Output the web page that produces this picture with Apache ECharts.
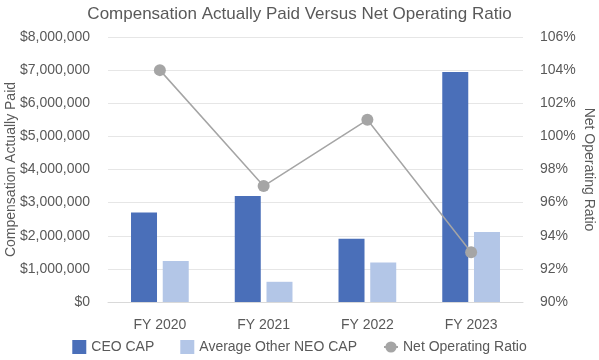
<!DOCTYPE html>
<html>
<head>
<meta charset="utf-8">
<script src="https://cdn.jsdelivr.net/npm/echarts@6/dist/echarts.min.js"></script>
<style>html,body{margin:0;padding:0;background:#fff}#c{width:599px;height:360px}</style>
</head>
<body>
<div id="c"></div>
<script>
var categories = ['FY 2020', 'FY 2021', 'FY 2022', 'FY 2023'];
var ceoCap = [2700000, 3200000, 1910000, 6940000];
var neoCap = [1240000, 610000, 1190000, 2110000];
var netOpRatio = [104, 97, 101, 93];

var txt = '#595959';
var font = 'Helvetica, Arial, "Liberation Sans", sans-serif';
var chart = echarts.init(document.getElementById('c'));
chart.setOption({
  animation: false,
  textStyle: {fontFamily: font},
  title: {text: 'Compensation Actually Paid Versus Net Operating Ratio', left: 'center', top: 1,
    textStyle: {fontSize: 17, fontWeight: 'normal', color: txt, fontFamily: font}},
  grid: {left: 108, right: 76, top: 37, bottom: 58, containLabel: false, outerBoundsMode: 'none'},
  legend: {bottom: 1, left: 'center', itemWidth: 14, itemHeight: 14, itemGap: 26,
    textStyle: {fontSize: 14, color: txt, fontFamily: font},
    data: [{name: 'CEO CAP', icon: 'rect'}, {name: 'Average Other NEO CAP', icon: 'rect'}, {name: 'Net Operating Ratio'}]},
  xAxis: {type: 'category', data: categories,
    axisLine: {show: true, lineStyle: {color: '#d9d9d9'}}, axisTick: {show: false},
    axisLabel: {color: txt, fontSize: 14, margin: 16}},
  yAxis: [
    {type: 'value', min: 0, max: 8000000, interval: 1000000,
     name: 'Compensation Actually Paid', nameLocation: 'middle', nameGap: 90, nameRotate: 90,
     nameMoveOverlap: false,
     nameTextStyle: {color: txt, fontSize: 14},
     axisLabel: {color: txt, fontSize: 14, margin: 18, formatter: function(v){return '$' + v.toLocaleString('en-US');}},
     splitLine: {lineStyle: {color: '#e6e6e6'}}, axisLine: {show: false}, axisTick: {show: false}},
    {type: 'value', min: 90, max: 106, interval: 2, position: 'right',
     name: 'Net Operating Ratio', nameLocation: 'middle', nameGap: 59, nameRotate: -90,
     nameMoveOverlap: false,
     nameTextStyle: {color: txt, fontSize: 14},
     axisLabel: {color: txt, fontSize: 14, margin: 17, formatter: '{value}%'},
     splitLine: {show: false}, axisLine: {show: false}, axisTick: {show: false}}
  ],
  series: [
    {name: 'CEO CAP', type: 'bar', data: ceoCap, barWidth: 26, barGap: '22%', itemStyle: {color: '#4A6FB9'}},
    {name: 'Average Other NEO CAP', type: 'bar', data: neoCap, barWidth: 26, itemStyle: {color: '#B3C6E7'}},
    {name: 'Net Operating Ratio', type: 'line', yAxisIndex: 1, data: netOpRatio,
     symbol: 'circle', symbolSize: 12, lineStyle: {color: '#A5A5A5', width: 1.5},
     itemStyle: {color: '#A5A5A5'}}
  ]
});
</script>
</body>
</html>
